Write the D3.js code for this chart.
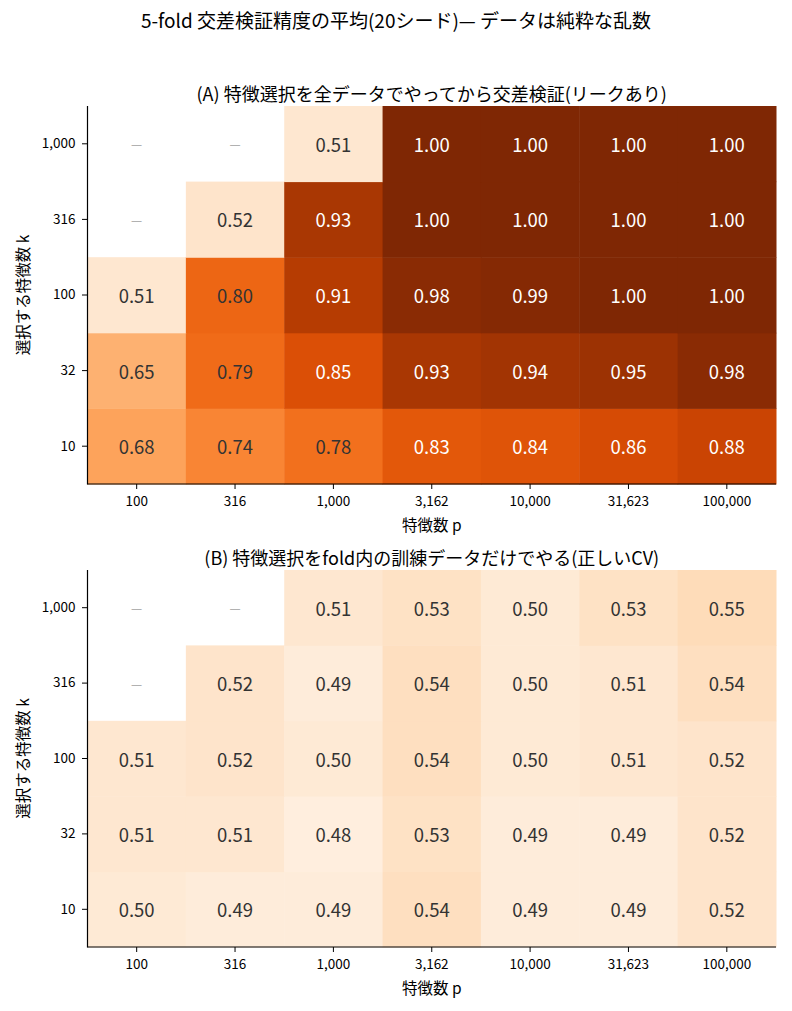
<!DOCTYPE html>
<html>
<head>
<meta charset="utf-8">
<script src="https://cdn.jsdelivr.net/npm/d3@7"></script>
<style>
  body { margin: 0; background: #fff; }
  svg text { font-family: "Noto Sans CJK JP", "Noto Sans", sans-serif; }
</style>
</head>
<body>
<div id="chart"></div>
<script>
// axis categories
var pLabels = ['100', '316', '1,000', '3,162', '10,000', '31,623', '100,000'];
var kLabels = ['10', '32', '100', '316', '1,000'];

// mean accuracy, rows = k (10 .. 1,000), cols = p; null where k > p
var accLeak = [
	[0.68, 0.74, 0.78, 0.83, 0.84, 0.86, 0.88],
	[0.65, 0.79, 0.85, 0.93, 0.94, 0.95, 0.98],
	[0.51, 0.80, 0.91, 0.98, 0.99, 1.00, 1.00],
	[null, 0.52, 0.93, 1.00, 1.00, 1.00, 1.00],
	[null, null, 0.51, 1.00, 1.00, 1.00, 1.00]
];
var accProper = [
	[0.50, 0.49, 0.49, 0.54, 0.49, 0.49, 0.52],
	[0.51, 0.51, 0.48, 0.53, 0.49, 0.49, 0.52],
	[0.51, 0.52, 0.50, 0.54, 0.50, 0.51, 0.52],
	[null, 0.52, 0.49, 0.54, 0.50, 0.51, 0.54],
	[null, null, 0.51, 0.53, 0.50, 0.53, 0.55]
];

var titles = [
	'(A) 特徴選択を全データでやってから交差検証(リークあり)',
	'(B) 特徴選択をfold内の訓練データだけでやる(正しいCV)'
];

var width = 792, height = 1011;
var svg = d3.select('#chart').append('svg')
	.attr('width', width)
	.attr('height', height);

// same colour scale for both panels
var color = d3.scaleSequential(d3.interpolateOranges).domain([0.45, 1.0]).clamp(true);

svg.append('text')
	.attr('x', 396)
	.attr('y', 19)
	.attr('text-anchor', 'middle')
	.attr('dominant-baseline', 'central')
	.style('font-size', '19px')
	.attr('fill', '#000')
	.text('5-fold 交差検証精度の平均(20シード)— データは純粋な乱数');

var left = 87.5, right = 776;

function drawPanel(data, title, top, bottom) {
	var x = d3.scaleBand().domain(pLabels).range([left, right]);
	var y = d3.scaleBand().domain(kLabels).range([bottom, top]);
	var g = svg.append('g');

	// cells
	data.forEach(function (row, i) {
		row.forEach(function (v, j) {
			var cx = x(pLabels[j]) + x.bandwidth() / 2;
			var cy = y(kLabels[i]) + y.bandwidth() / 2;
			if (v === null) {
				g.append('text')
					.attr('x', cx)
					.attr('y', cy)
					.attr('text-anchor', 'middle')
					.attr('dominant-baseline', 'central')
					.style('font-size', '12.5px')
					.attr('fill', '#a0a0a0')
					.text('—');
				return;
			}
			g.append('rect')
				.attr('x', x(pLabels[j]))
				.attr('y', y(kLabels[i]))
				.attr('width', x.bandwidth() + 0.5)
				.attr('height', y.bandwidth() + 0.5)
				.attr('fill', color(v));
			g.append('text')
				.attr('x', cx)
				.attr('y', cy)
				.attr('text-anchor', 'middle')
				.attr('dominant-baseline', 'central')
				.style('font-size', '18.5px')
				.attr('fill', v > 0.815 ? '#fff' : '#333')
				.text(v.toFixed(2));
		});
	});

	// axes
	var xAxis = g.append('g')
		.attr('transform', 'translate(0,' + bottom + ')')
		.call(d3.axisBottom(x).tickSize(5).tickPadding(6));
	var yAxis = g.append('g')
		.attr('transform', 'translate(' + left + ',0)')
		.call(d3.axisLeft(y).tickSize(5.5).tickPadding(6.5));
	[xAxis, yAxis].forEach(function (a) {
		a.select('.domain').remove();
		a.selectAll('text').style('font-size', '13.5px').attr('fill', '#000')
			.style('font-family', '"Noto Sans CJK JP", sans-serif');
		a.selectAll('line').attr('stroke', '#000').attr('stroke-width', 1);
	});
	xAxis.selectAll('text').attr('dy', '0.8em');

	// spines: left and bottom only
	g.append('line').attr('x1', left).attr('x2', left).attr('y1', top).attr('y2', bottom + 0.5)
		.attr('stroke', '#000').attr('stroke-width', 1.2);
	g.append('line').attr('x1', left).attr('x2', right).attr('y1', bottom).attr('y2', bottom)
		.attr('stroke', '#000').attr('stroke-width', 1.2);

	// labels
	g.append('text')
		.attr('x', (left + right) / 2)
		.attr('y', top - 13.5)
		.attr('text-anchor', 'middle')
		.attr('dominant-baseline', 'central')
		.style('font-size', '18px')
		.attr('fill', '#000')
		.text(title);
	g.append('text')
		.attr('x', (left + right) / 2)
		.attr('y', bottom + 39.5)
		.attr('text-anchor', 'middle')
		.attr('dominant-baseline', 'central')
		.style('font-size', '15.5px')
		.attr('fill', '#000')
		.text('特徴数 p');
	g.append('text')
		.attr('transform', 'translate(22,' + (top + bottom) / 2 + ') rotate(-90)')
		.attr('text-anchor', 'middle')
		.attr('dominant-baseline', 'central')
		.style('font-size', '15.5px')
		.attr('fill', '#000')
		.text('選択する特徴数 k');
}

drawPanel(accLeak, titles[0], 106, 484);
drawPanel(accProper, titles[1], 570, 947);
</script>
</body>
</html>
